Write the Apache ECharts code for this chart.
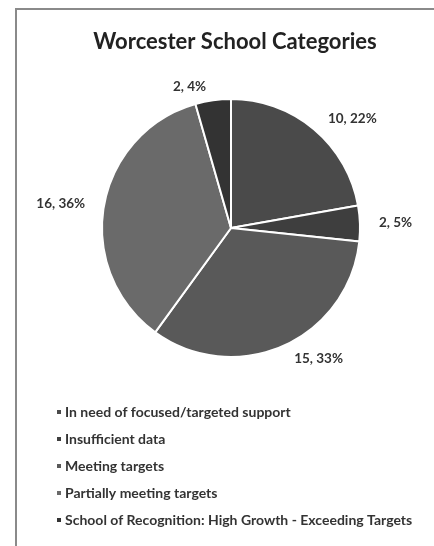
<!DOCTYPE html>
<html>
<head>
<meta charset="utf-8">
<script src="https://cdn.jsdelivr.net/npm/echarts@6/dist/echarts.min.js"></script>
<style>
html,body{margin:0;padding:0;background:#fff;}
#chart{width:434px;height:546px;}
</style>
</head>
<body>
<div id="chart"></div>
<script>
const categories = [
  'In need of focused/targeted support',
  'Insufficient data',
  'Meeting targets',
  'Partially meeting targets',
  'School of Recognition: High Growth - Exceeding Targets'
];
const schoolCounts = [10, 2, 15, 16, 2];
const percentLabels = ['22%', '5%', '33%', '36%', '4%'];
const sliceColors = ['#4a4a4a', '#3e3e3e', '#595959', '#6a6a6a', '#333333'];

const chart = echarts.init(document.getElementById('chart'));
const font = 'Lato, "Open Sans", sans-serif';

chart.setOption({
  animation: false,
  backgroundColor: '#fff',
  title: {
    text: 'Worcester School Categories',
    left: 230,
    textAlign: 'center',
    top: 26,
    textStyle: { fontFamily: font, fontSize: 22, fontWeight: 'bold', color: '#222' }
  },
  graphic: [{
    type: 'rect',
    shape: { x: 16, y: 9, width: 600, height: 700 },
    style: { fill: 'none', stroke: '#8a8a8a', lineWidth: 2 },
    silent: true
  }],
  legend: {
    orient: 'vertical',
    left: 50,
    top: 400,
    itemWidth: 6,
    itemHeight: 6,
    itemGap: 13,
    icon: 'rect',
    textStyle: { fontFamily: font, fontSize: 14, fontWeight: 'bold', color: '#333', padding: [0, 0, 0, -2] },
    data: categories
  },
  series: [{
    type: 'pie',
    center: [231, 228],
    radius: 129,
    startAngle: 90,
    clockwise: true,
    itemStyle: { borderColor: '#fff', borderWidth: 2 },
    label: {
      show: true,
      position: 'outside',
      fontFamily: font,
      fontSize: 13.5,
      fontWeight: 'bold',
      color: '#333',
      formatter: p => p.value + ', ' + percentLabels[p.dataIndex]
    },
    labelLine: { show: false, length: 14, length2: 0 },
    data: categories.map((c, i) => ({
      name: c,
      value: schoolCounts[i],
      itemStyle: { color: sliceColors[i] }
    }))
  }]
});
</script>
</body>
</html>
